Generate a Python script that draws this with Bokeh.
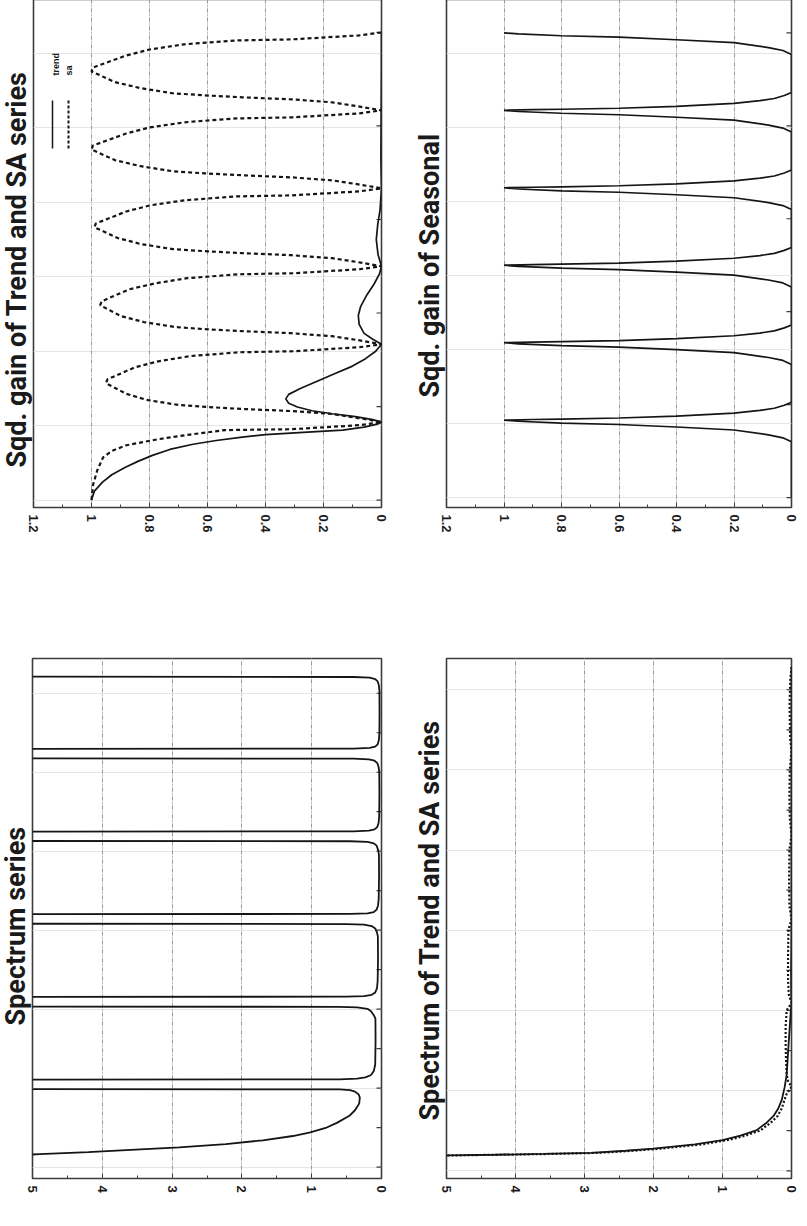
from bokeh.plotting import figure
from bokeh.models import (Range1d, LinearAxis, FixedTicker, Grid, Label, Arrow,
                          NumeralTickFormatter)
from bokeh.layouts import column, row
from bokeh.embed import file_html
from bokeh.resources import INLINE

# ---------------- data (frequency in radians, 0..pi) ----------------
# Panel A: squared gain of trend filter
trend_gain_f = [0.00, 0.06, 0.12, 0.17, 0.22, 0.26, 0.30, 0.34, 0.375, 0.40, 0.423, 0.44, 0.455,
                0.47, 0.49, 0.51, 0.5236, 0.54, 0.56, 0.58, 0.60, 0.625, 0.65, 0.68, 0.71, 0.75,
                0.80, 0.85, 0.90, 0.95, 1.00, 1.0472, 1.08, 1.12, 1.18, 1.24, 1.30, 1.38, 1.45,
                1.52, 1.5708, 1.65, 1.75, 1.85, 1.95, 2.0944, 2.30, 2.60, 2.90, 3.1416]
trend_gain_v = [1.00, 0.99, 0.962, 0.93, 0.883, 0.84, 0.79, 0.73, 0.65, 0.57, 0.48, 0.40, 0.27,
                0.134, 0.06, 0.015, 0.0, 0.03, 0.09, 0.17, 0.24, 0.29, 0.32, 0.33, 0.32, 0.28,
                0.22, 0.16, 0.10, 0.055, 0.02, 0.0, 0.03, 0.06, 0.077, 0.08, 0.072, 0.05, 0.026,
                0.007, 0.0, 0.012, 0.018, 0.013, 0.005, 0.0, 0.002, 0.001, 0.0, 0.0]

# Panel A: squared gain of seasonal adjustment filter
sa_gain_f = [0.00, 0.10, 0.20, 0.287, 0.33, 0.368, 0.409, 0.44, 0.47, 0.476, 0.503, 0.5236,
             0.551, 0.578, 0.598, 0.612, 0.625, 0.639, 0.673, 0.714, 0.785, 0.811, 0.892, 0.932,
             0.967, 0.993, 1.000, 1.027, 1.0472,
             1.074, 1.101, 1.121, 1.135, 1.148, 1.162, 1.196, 1.237, 1.309, 1.335, 1.416, 1.456,
             1.491, 1.517, 1.524, 1.551, 1.5708,
             1.598, 1.625, 1.645, 1.659, 1.672, 1.686, 1.720, 1.761, 1.833, 1.858, 1.939, 1.979,
             2.014, 2.040, 2.047, 2.074, 2.0944,
             2.121, 2.148, 2.168, 2.182, 2.195, 2.209, 2.243, 2.284, 2.356, 2.382, 2.463, 2.503,
             2.538, 2.564, 2.571, 2.598, 2.618,
             2.645, 2.672, 2.692, 2.706, 2.719, 2.733, 2.767, 2.808, 2.880, 2.906, 2.987, 3.027,
             3.062, 3.088, 3.095, 3.122, 3.1416]
sa_gain_v = [1.00, 0.995, 0.98, 0.96, 0.93, 0.88, 0.77, 0.66, 0.54, 0.31, 0.076, 0.0,
             0.08, 0.17, 0.31, 0.48, 0.60, 0.70, 0.81, 0.88, 0.95, 0.945, 0.85, 0.77,
             0.66, 0.49, 0.30, 0.075, 0.0,
             0.08, 0.17, 0.31, 0.48, 0.61, 0.71, 0.82, 0.90, 0.97, 0.965, 0.87, 0.78,
             0.67, 0.49, 0.30, 0.075, 0.0,
             0.08, 0.17, 0.31, 0.48, 0.61, 0.72, 0.83, 0.91, 0.99, 0.985, 0.88, 0.80,
             0.68, 0.50, 0.31, 0.076, 0.0,
             0.08, 0.17, 0.31, 0.48, 0.61, 0.72, 0.83, 0.92, 1.00, 0.995, 0.88, 0.80,
             0.68, 0.50, 0.31, 0.076, 0.0,
             0.08, 0.17, 0.31, 0.48, 0.61, 0.72, 0.83, 0.92, 1.00, 0.995, 0.88, 0.80,
             0.68, 0.50, 0.31, 0.076, 0.0]

# Panel B: squared gain of seasonal filter
seas_gain_f = [0.00,
               0.377, 0.404, 0.424, 0.457, 0.477, 0.494, 0.504, 0.516, 0.5236,
               0.528, 0.531, 0.538, 0.551, 0.571, 0.589, 0.604, 0.624, 0.644,
               0.900, 0.927, 0.947, 0.980, 1.000, 1.017, 1.027, 1.039, 1.0472,
               1.051, 1.054, 1.061, 1.074, 1.094, 1.112, 1.127, 1.147, 1.167,
               1.424, 1.451, 1.471, 1.504, 1.524, 1.541, 1.551, 1.563, 1.5708,
               1.575, 1.578, 1.585, 1.598, 1.618, 1.636, 1.651, 1.671, 1.691,
               1.947, 1.974, 1.994, 2.027, 2.047, 2.064, 2.074, 2.086, 2.0944,
               2.098, 2.101, 2.108, 2.121, 2.141, 2.159, 2.174, 2.194, 2.214,
               2.471, 2.498, 2.518, 2.551, 2.571, 2.588, 2.598, 2.610, 2.618,
               2.622, 2.625, 2.632, 2.645, 2.665, 2.683, 2.698, 2.718, 2.738,
               2.995, 3.022, 3.042, 3.075, 3.095, 3.112, 3.122, 3.134, 3.1416]
seas_gain_v = [0.0,
               0.0, 0.03, 0.08, 0.2, 0.4, 0.6, 0.8, 0.95, 1.0,
               0.9, 0.8, 0.6, 0.4, 0.2, 0.11, 0.06, 0.025, 0.0,
               0.0, 0.03, 0.08, 0.2, 0.4, 0.6, 0.8, 0.95, 1.0,
               0.9, 0.8, 0.6, 0.4, 0.2, 0.11, 0.06, 0.025, 0.0,
               0.0, 0.03, 0.08, 0.2, 0.4, 0.6, 0.8, 0.95, 1.0,
               0.9, 0.8, 0.6, 0.4, 0.2, 0.11, 0.06, 0.025, 0.0,
               0.0, 0.03, 0.08, 0.2, 0.4, 0.6, 0.8, 0.95, 1.0,
               0.9, 0.8, 0.6, 0.4, 0.2, 0.11, 0.06, 0.025, 0.0,
               0.0, 0.03, 0.08, 0.2, 0.4, 0.6, 0.8, 0.95, 1.0,
               0.9, 0.8, 0.6, 0.4, 0.2, 0.11, 0.06, 0.025, 0.0,
               0.0, 0.03, 0.08, 0.2, 0.4, 0.6, 0.8, 0.95, 1.0]

# Panel C: spectrum of the series (6.0 = off the top of the scale)
spec_f = [0.060, 0.082, 0.095, 0.108, 0.125, 0.146, 0.170, 0.197, 0.220, 0.248, 0.280, 0.325,
          0.360, 0.402, 0.440, 0.462, 0.478, 0.488, 0.492, 0.494,
          0.554, 0.556, 0.560, 0.568, 0.583, 0.608, 0.650, 0.800, 0.940, 0.962, 0.987, 1.002,
          1.011, 1.015, 1.017,
          1.077, 1.079, 1.083, 1.091, 1.106, 1.131, 1.180, 1.310, 1.460, 1.486, 1.511, 1.526,
          1.535, 1.539, 1.541,
          1.601, 1.603, 1.607, 1.615, 1.630, 1.655, 1.700, 1.850, 1.980, 2.010, 2.035, 2.050,
          2.059, 2.063, 2.065,
          2.124, 2.126, 2.130, 2.138, 2.153, 2.178, 2.220, 2.360, 2.500, 2.533, 2.558, 2.573,
          2.582, 2.586, 2.588,
          2.648, 2.650, 2.654, 2.662, 2.677, 2.702, 2.750, 2.880, 3.020, 3.050, 3.075, 3.090,
          3.099, 3.103, 3.105]
spec_v = [6.0, 4.9, 4.2, 3.66, 2.9, 2.23, 1.70, 1.27, 1.02, 0.80, 0.64, 0.46,
          0.38, 0.32, 0.31, 0.33, 0.38, 0.45, 0.6, 6.0,
          6.0, 0.6, 0.35, 0.23, 0.15, 0.11, 0.09, 0.085, 0.087, 0.11, 0.15, 0.2,
          0.35, 0.6, 6.0,
          6.0, 0.5, 0.25, 0.14, 0.09, 0.065, 0.055, 0.05, 0.052, 0.065, 0.09, 0.14,
          0.25, 0.5, 6.0,
          6.0, 0.45, 0.2, 0.11, 0.07, 0.05, 0.04, 0.035, 0.037, 0.05, 0.07, 0.11,
          0.2, 0.45, 6.0,
          6.0, 0.4, 0.18, 0.1, 0.06, 0.042, 0.033, 0.03, 0.032, 0.042, 0.06, 0.1,
          0.18, 0.4, 6.0,
          6.0, 0.4, 0.17, 0.09, 0.055, 0.038, 0.03, 0.028, 0.03, 0.038, 0.055, 0.09,
          0.17, 0.4, 6.0]

# Panel D: spectra of trend and SA series
trend_spec_f = [0.094, 0.096, 0.100, 0.105, 0.112, 0.125, 0.138, 0.165, 0.192, 0.220, 0.252,
                0.300, 0.342, 0.390, 0.444, 0.520, 0.600, 0.700, 0.803, 0.900, 1.000, 1.0472,
                1.100, 1.250, 1.400, 1.5708, 1.800, 2.100, 2.600, 3.1416]
trend_spec_v = [5.1, 4.97, 4.3, 3.6, 2.9, 2.4, 2.0, 1.4, 1.0, 0.74, 0.51,
                0.36, 0.26, 0.19, 0.14, 0.10, 0.07, 0.055, 0.04, 0.025, 0.01, 0.0,
                0.004, 0.006, 0.002, 0.0, 0.0, 0.0, 0.0, 0.0]
sa_spec_f = [0.094, 0.096, 0.100, 0.105, 0.112, 0.125, 0.138, 0.165, 0.192, 0.220, 0.252,
             0.300, 0.342, 0.390, 0.444, 0.480, 0.5236, 0.560, 0.600, 0.700, 0.800, 0.900,
             1.000, 1.0472, 1.100, 1.200, 1.350, 1.500, 1.5708, 1.650, 1.800, 2.000, 2.0944,
             2.200, 2.350, 2.500, 2.618, 2.700, 2.900, 3.050, 3.1416]
sa_spec_v = [5.1, 4.95, 4.25, 3.5, 2.8, 2.3, 1.9, 1.3, 0.92, 0.66, 0.45,
             0.30, 0.20, 0.14, 0.10, 0.07, 0.0, 0.05, 0.07, 0.08, 0.085, 0.085,
             0.07, 0.0, 0.04, 0.05, 0.05, 0.045, 0.0, 0.03, 0.035, 0.03, 0.0,
             0.025, 0.03, 0.025, 0.0, 0.02, 0.028, 0.02, 0.0]

# axis ticks
gain_ticks = [0, 0.2, 0.4, 0.6, 0.8, 1.0, 1.2]
gain_minor = [0.1, 0.3, 0.5, 0.7, 0.9, 1.1]
spec_ticks = [0, 1, 2, 3, 4, 5]
spec_minor = [0.5, 1.5, 2.5, 3.5, 4.5]
freq_ticks_gain = [0.0, 0.6283, 1.2566, 1.8850, 2.5133, 3.1416]
freq_ticks_spec = [0.0, 0.25, 0.5, 0.75, 1.0, 1.25, 1.5, 1.75, 2.0, 2.25, 2.5, 2.75, 3.0]

titles = ["Sqd. gain of Trend and SA series", "Sqd. gain of Seasonal",
          "Spectrum series", "Spectrum of Trend and SA series"]
legend_labels = ["trend", "sa"]

INK = "#151515"
FRAME = "#3c3c3c"
TITLE_FONT = "Roboto"
LABEL_FONT = "Liberation Sans"


def make_panel(width, height, borders, xr, yr, vticks, vminor, fticks, title, toff, fmt=None):
    left, right, top, bottom = borders
    p = figure(width=width, height=height, x_range=Range1d(*xr), y_range=Range1d(*yr),
               output_backend="svg", toolbar_location=None,
               x_axis_location=None, y_axis_location=None,
               min_border_left=left, min_border_right=right,
               min_border_top=top, min_border_bottom=bottom,
               title=title, title_location="left")
    p.background_fill_color = "white"
    p.border_fill_color = "white"
    p.outline_line_color = FRAME
    p.outline_line_width = 1.6
    p.title.text_font = TITLE_FONT
    p.title.text_font_size = "27px"
    p.title.text_font_style = "bold"
    p.title.text_color = "#1a1a1a"
    p.title.align = "left"
    p.title.standoff = 2
    p.title.offset = toff

    vt = FixedTicker(ticks=vticks, minor_ticks=vminor)
    ax = LinearAxis(ticker=vt)
    if fmt is not None:
        ax.formatter = fmt
    ax.axis_line_color = None
    ax.major_tick_in = 5
    ax.major_tick_out = 0
    ax.minor_tick_in = 3
    ax.minor_tick_out = 0
    ax.major_tick_line_color = FRAME
    ax.minor_tick_line_color = FRAME
    ax.major_label_orientation = "vertical"
    ax.major_label_text_font = LABEL_FONT
    ax.major_label_text_font_style = "bold"
    ax.major_label_text_font_size = "13px"
    ax.major_label_text_color = "#1a1a1a"
    ax.major_label_standoff = 7
    p.add_layout(ax, "below")

    # frequency ticks on the right edge of the frame (inward, unlabeled)
    p.scatter(x=[xr[1]] * len(fticks), y=fticks, marker="dash", size=10,
              line_color=FRAME, line_width=1.2)

    g = Grid(dimension=0, ticker=FixedTicker(ticks=vticks[1:-1]))
    g.grid_line_color = "#9a9a9a"
    g.grid_line_dash = "4 2 1 2"
    g.grid_line_width = 1
    p.add_layout(g)
    return p


gain_fmt = NumeralTickFormatter(format="0.[0]")

# Panel A
pa = make_panel(418, 600, (41, 29, 7, 83), (1.2, 0.0), (-0.05, 3.363),
                gain_ticks, gain_minor, freq_ticks_gain, titles[0], 40, gain_fmt)
pa.line(sa_gain_v, sa_gain_f, line_color=INK, line_width=2.2, line_dash="4 3")
pa.line(trend_gain_v, trend_gain_f, line_color=INK, line_width=1.7)
# legend (rotated, drawn in screen units relative to the frame)
pa.add_layout(Arrow(end=None, x_start=19, y_start=359, x_end=19, y_end=407,
                    start_units="screen", end_units="screen",
                    line_color=INK, line_width=1.5))
pa.add_layout(Arrow(end=None, x_start=35, y_start=359, x_end=35, y_end=409,
                    start_units="screen", end_units="screen",
                    line_color=INK, line_width=2.0, line_dash="3 2"))
for xs, txt in zip([22.5, 35.5], legend_labels):
    pa.add_layout(Label(x=xs, y=432, x_units="screen", y_units="screen", text=txt,
                        angle=1.5708, text_align="left", text_baseline="middle",
                        text_font=LABEL_FONT, text_font_style="bold",
                        text_font_size="9px", text_color=INK))

# Panel B
pb = make_panel(389, 600, (36, 8, 4, 85), (1.2, 0.0), (-0.067, 3.367),
                gain_ticks, gain_minor, freq_ticks_gain, titles[1], 110, gain_fmt)
pb.line(seas_gain_v, seas_gain_f, line_color=INK, line_width=1.7)

# Panel C
pc = make_panel(418, 626, (40, 29, 66, 40), (5.0, 0.0), (-0.072, 3.22),
                spec_ticks, spec_minor, freq_ticks_spec, titles[2], 153)
pc.line(spec_v, spec_f, line_color=INK, line_width=1.8)

# Panel D
pd_ = make_panel(389, 626, (36, 8, 60, 25), (5.0, 0.0), (-0.048, 3.195),
                 spec_ticks, spec_minor, freq_ticks_spec, titles[3], 58)
pd_.line(sa_spec_v, sa_spec_f, line_color=INK, line_width=2.2, line_dash="2 2")
pd_.line(trend_spec_v, trend_spec_f, line_color=INK, line_width=1.8)

layout = column(row(pa, pb), row(pc, pd_), styles={"margin": "-8px"})

open("out.html", "w").write(file_html(layout, INLINE))
